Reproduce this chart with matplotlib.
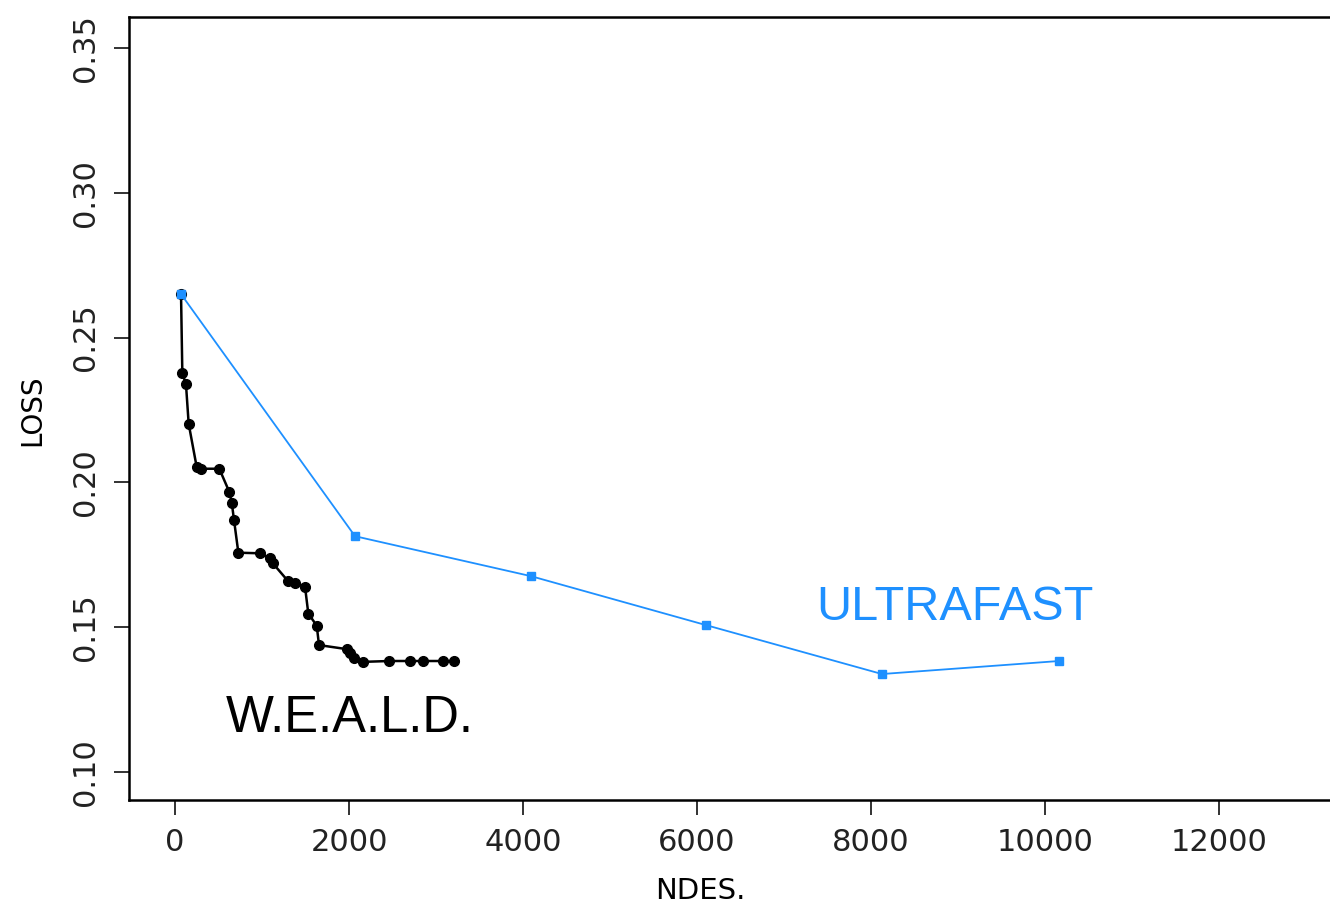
import matplotlib
matplotlib.use("Agg")
import matplotlib.pyplot as plt

# W.E.A.L.D. series
weald_x = [69, 84, 126, 157, 249, 295, 509, 624, 652, 678, 728, 977, 1092, 1123,
           1302, 1379, 1494, 1532, 1629, 1655, 1974, 2011, 2057, 2157, 2463, 2701,
           2847, 3077, 3207]
weald_y = [0.265, 0.2378, 0.2338, 0.2202, 0.2053, 0.2047, 0.2047, 0.1967, 0.1930,
           0.1870, 0.1757, 0.1755, 0.1737, 0.1721, 0.1658, 0.1654, 0.1640, 0.1547,
           0.1505, 0.1438, 0.1424, 0.1410, 0.1395, 0.1380, 0.1383, 0.1383, 0.1383,
           0.1383, 0.1383]

# ULTRAFAST series
ultra_x = [69, 2069, 4092, 6103, 8126, 10161]
ultra_y = [0.265, 0.1814, 0.1676, 0.1507, 0.1338, 0.1383]

x_ticks = [0, 2000, 4000, 6000, 8000, 10000, 12000]
y_ticks = [0.10, 0.15, 0.20, 0.25, 0.30, 0.35]
y_tick_labels = ["0.10", "0.15", "0.20", "0.25", "0.30", "0.35"]

BLUE = "#1e90ff"

fig = plt.figure(figsize=(13.3, 9.08), dpi=100)
ax = fig.add_axes([129 / 1330, 1 - 800 / 908, 1 - 129 / 1330, (800 - 17) / 908])

ax.plot(weald_x, weald_y, color="black", lw=1.8, marker="o", ms=7, zorder=3)
ax.plot(ultra_x, ultra_y, color=BLUE, lw=1.3, marker="s", ms=5.5, zorder=4)

ax.set_xlim(-529, 13276)
ax.set_ylim(0.0903, 0.3607)
ax.set_xticks(x_ticks)
ax.set_xticklabels([str(t) for t in x_ticks])
ax.set_yticks(y_ticks)
ax.set_yticklabels(y_tick_labels, rotation=90, va="center")

for s in ["left", "bottom", "top"]:
    ax.spines[s].set_linewidth(1.8)
ax.spines["right"].set_visible(False)

ax.tick_params(axis="both", direction="out", length=11, width=1.3, labelsize=22,
               color="#222222", labelcolor="#222222")
ax.tick_params(axis="x", pad=9)
ax.tick_params(axis="y", pad=10)

ax.set_xlabel("NDES.", fontsize=21)
ax.set_ylabel("LOSS", fontsize=20)
ax.xaxis.set_label_coords((700 - 129) / 1201, (800 - 891) / 783)
ax.yaxis.set_label_coords((32 - 129) / 1201, (800 - 410) / 783)
ax.xaxis.label.set_va("center")
ax.yaxis.label.set_va("center")

ax.text(8966, 0.1569, "ULTRAFAST", color=BLUE, fontsize=35, ha="center", va="center",
        family="Liberation Sans")
ax.text(2011, 0.1183, "W.E.A.L.D.", color="black", fontsize=36.5, ha="center", va="center",
        family="Liberation Sans")

fig.savefig("out.png", dpi=100)
